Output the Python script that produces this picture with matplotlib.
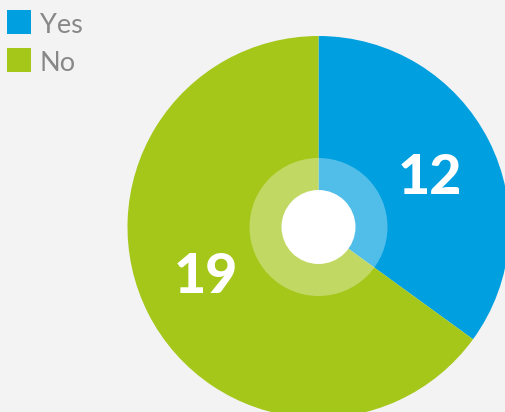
import matplotlib
matplotlib.use("Agg")
import numpy as np
import matplotlib.pyplot as plt
from matplotlib.patches import Circle, Rectangle

# data
categories = ["Yes", "No"]
counts = [12, 19]
# the slices in the picture do not follow 12:19 exactly, so keep the drawn shares apart
shares = [35, 65]
colors = ["#009fe0", "#a4c71a"]

bg = "#f3f3f3"
fig = plt.figure(figsize=(5.06, 4.12), dpi=100, facecolor=bg)
ax = fig.add_axes([0, 0, 1, 1])
ax.set_facecolor(bg)

cx, cy = 318.5, 185
wedges, _ = ax.pie(shares, colors=colors, startangle=90, counterclock=False,
                   center=(cx, cy), radius=191, frame=True,
                   wedgeprops=dict(linewidth=0, antialiased=True))
ax.set_xlim(0, 506)
ax.set_ylim(0, 412)
ax.set_aspect("auto")
ax.axis("off")

# pale ring and white hole in the middle
ax.add_patch(Circle((cx, cy), 69, facecolor="white", alpha=0.32, linewidth=0))
ax.add_patch(Circle((cx, cy), 37, facecolor="white", linewidth=0))

# value labels
label_pos = [(430, 218), (205.5, 119)]
for (x, y), n in zip(label_pos, counts):
    ax.text(x, y, str(n), color="white", fontsize=40, fontweight="black",
            family="Lato", ha="center", va="baseline")

# legend
for i, (name, c) in enumerate(zip(categories, colors)):
    top = 412 - 10 - i * 38
    ax.add_patch(Rectangle((7, top - 24), 24, 24, facecolor=c, linewidth=0))
    ax.text(40, top - 23, name, color="#888888", fontsize=19.5,
            family="Lato", ha="left", va="baseline")

fig.savefig("out.png", dpi=100, facecolor=bg)
